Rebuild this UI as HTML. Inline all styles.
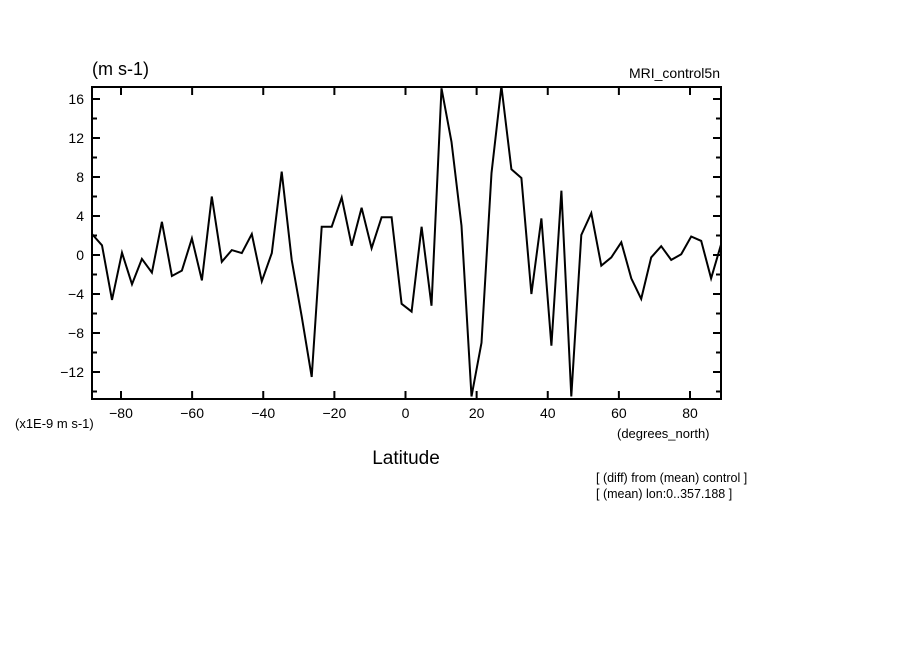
<!DOCTYPE html>
<html><head><meta charset="utf-8"><style>
body{margin:0;background:#fff;}
svg text{font-family:"Liberation Sans",sans-serif;fill:#000;}
</style></head><body>
<svg id="chart" width="904" height="654" viewBox="0 0 904 654" xmlns="http://www.w3.org/2000/svg">
<rect width="904" height="654" fill="#fff"/>
<g id="axes"></g>
<text x="92" y="75" font-size="18">(m s-1)</text>
<text x="720" y="78" font-size="14" text-anchor="end">MRI_control5n</text>
<text x="15" y="428" font-size="13">(x1E-9 m s-1)</text>
<text x="617" y="438" font-size="13">(degrees_north)</text>
<text x="406" y="464" font-size="19" text-anchor="middle">Latitude</text>
<text x="596" y="482" font-size="12.5">[ (diff) from (mean) control ]</text>
<text x="596" y="498" font-size="12.5">[ (mean) lon:0..357.188 ]</text>
</svg>
<script>
const values = [2.15,1.0,-4.6,0.24,-3.0,-0.4,-1.8,3.4,-2.15,-1.6,1.7,-2.6,6.0,-0.7,0.5,0.2,2.15,-2.7,0.2,8.55,-0.5,-6.3,-12.5,2.9,2.9,5.9,0.95,4.85,0.7,3.87,3.87,-5.0,-5.8,2.9,-5.2,17.1,11.6,3.0,-14.5,-9.0,8.4,17.3,8.8,7.9,-4.0,3.75,-9.3,6.6,-14.5,2.05,4.3,-1.1,-0.25,1.3,-2.4,-4.5,-0.25,0.9,-0.5,0.07,1.9,1.45,-2.4,1.1];
const xTicks = [-80,-60,-40,-20,0,20,40,60,80];
const yTicks = [-12,-8,-4,0,4,8,12,16];
const latStart = -88.15, latStep = 2.808;
const L=92,R=721,T=87,B=399;
const xScale = v => 121 + (v+80)*(569/160);
const yScale = v => 255 - v*9.75;
const NS="http://www.w3.org/2000/svg";
const svg=document.getElementById('chart');
const g=document.getElementById('axes');
function mk(tag,attrs){const e=document.createElementNS(NS,tag);for(const k in attrs)e.setAttribute(k,attrs[k]);return e;}
const frame=mk('rect',{x:L,y:T,width:R-L,height:B-T,fill:'none',stroke:'#000','stroke-width':2});


g.appendChild(frame);
xTicks.forEach(t=>{
  const x=xScale(t);
  const a=mk('line',{x1:x,y1:B,x2:x,y2:B-8,stroke:'#000','stroke-width':2});
  
  
  g.appendChild(a);
  const b=mk('line',{x1:x,y1:T,x2:x,y2:T+8,stroke:'#000','stroke-width':2});
  
  
  g.appendChild(b);
  const tx=mk('text',{x:x,y:B+19,'font-size':14,'text-anchor':'middle'});
  tx.textContent=(t<0?'\u2212'+(-t):t);
  
  
  g.appendChild(tx);
});
for(let v=-14;v<=17;v+=2){
  const y=yScale(v);const len=(v%4===0)?8:5;
  const a=mk('line',{x1:L,y1:y,x2:L+len,y2:y,stroke:'#000','stroke-width':2});
  
  
  g.appendChild(a);
  const b=mk('line',{x1:R,y1:y,x2:R-len,y2:y,stroke:'#000','stroke-width':2});
  
  
  g.appendChild(b);
}
yTicks.forEach(t=>{
  const tx=mk('text',{x:84,y:yScale(t)+5,'font-size':14,'text-anchor':'end'});
  tx.textContent=(t<0?'\u2212'+(-t):t);
  
  
  g.appendChild(tx);
});
const pts=values.map((v,i)=>xScale(latStart+i*latStep).toFixed(1)+','+yScale(v).toFixed(1)).join(' ');
const line=mk('polyline',{points:pts,fill:'none',stroke:'#000','stroke-width':2,'stroke-linejoin':'miter'});


g.appendChild(line);
</script>
</body></html>
